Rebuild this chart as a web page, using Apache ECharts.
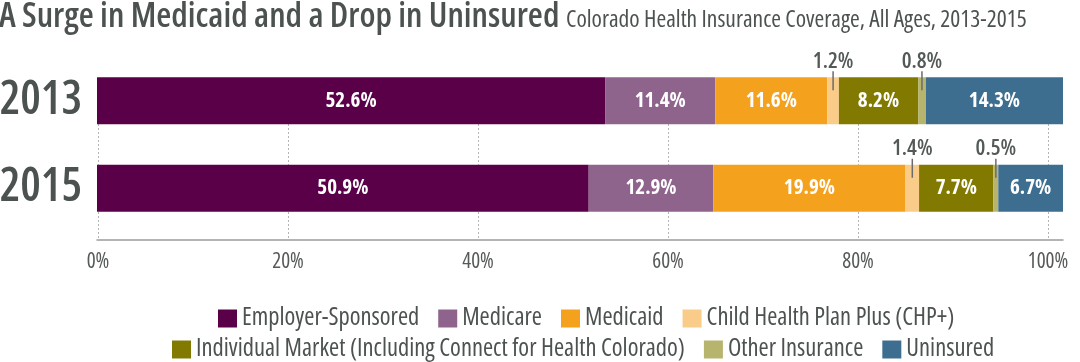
<!DOCTYPE html>
<html>
<head>
<meta charset="utf-8">
<script src="https://cdn.jsdelivr.net/npm/echarts@6/dist/echarts.min.js"></script>
<style>
html,body{margin:0;padding:0;background:#fff;}
#chart{width:1080px;height:362px;}
</style>
</head>
<body>
<div id="chart"></div>
<script>
// ---- data ----
const years = ['2013', '2015'];
const seriesNames = ['Employer-Sponsored', 'Medicare', 'Medicaid', 'Child Health Plan Plus (CHP+)',
  'Individual Market (Including Connect for Health Colorado)', 'Other Insurance', 'Uninsured'];
const employer   = [52.6, 50.9];
const medicare   = [11.4, 12.9];
const medicaid   = [11.6, 19.9];
const chp        = [1.2, 1.4];
const individual = [8.2, 7.7];
const other      = [0.8, 0.5];
const uninsured  = [14.3, 6.7];
const tickValues = [0, 20, 40, 60, 80, 100];
const titleText = 'A Surge in Medicaid and a Drop in Uninsured';
const subtitleText = 'Colorado Health Insurance Coverage, All Ages, 2013-2015';

const colors = ['#5a0049', '#8f648c', '#f4a11e', '#f9cc8a', '#827a00', '#b7b46e', '#3e6e8f'];
const values = [employer, medicare, medicaid, chp, individual, other, uninsured];
const FONT = '"Open Sans", "Roboto", sans-serif';
const ST = 'condensed';
const TXT = '#4b524f';

const insideLabel = {
  show: true, position: 'inside', color: '#fff', fontFamily: FONT, fontStyle: ST,
  fontSize: 21, fontWeight: 'bold', formatter: p => p.value.toFixed(1) + '%'
};
const outsideLabel = {
  show: true, position: 'top', distance: -13,
  formatter: p => '{v|' + p.value.toFixed(1) + '%}\n{l|}',
  rich: {
    v: { fontFamily: FONT, fontStyle: ST, fontSize: 22, fontWeight: 600, color: '#535957', lineHeight: 20, align: 'center' },
    l: { width: 1.5, height: 19, backgroundColor: '#6b6b6b', align: 'center' }
  }
};

const series = seriesNames.map((name, i) => ({
  name: name,
  type: 'bar',
  stack: 'total',
  xAxisIndex: 0, yAxisIndex: 0,
  barWidth: 47,
  itemStyle: { color: colors[i] },
  data: values[i].map(v => ({ value: v, label: v < 3 ? outsideLabel : insideLabel }))
}));

const legendText = { color: TXT, fontFamily: FONT, fontStyle: ST, fontSize: 24.5 };
const chart = echarts.init(document.getElementById('chart'), null, { renderer: 'canvas' });
chart.setOption({
  animation: false,
  color: colors,
  title: [
    { text: titleText, left: -1, top: -1, padding: 0,
      textStyle: { color: TXT, fontFamily: FONT, fontStyle: ST, fontSize: 34.5, fontWeight: 600, lineHeight: 36 } },
    { text: subtitleText, left: 566, top: 8, padding: 0,
      textStyle: { color: TXT, fontFamily: FONT, fontStyle: ST, fontSize: 23.5, fontWeight: 'normal', lineHeight: 24 } }
  ],
  legend: [
    { data: seriesNames.slice(0, 4), left: 218, top: 306, itemWidth: 19, itemHeight: 18, itemGap: 19,
      padding: 0, icon: 'rect', textStyle: legendText, selectedMode: false },
    { data: seriesNames.slice(4), left: 172, top: 337, itemWidth: 19, itemHeight: 18, itemGap: 19,
      padding: 0, icon: 'rect', textStyle: legendText, selectedMode: false }
  ],
  grid: [
    { left: 97, right: 17, top: 57, height: 175, containLabel: false, outerBoundsMode: 'none' },
    { left: 98, right: 32, top: 124, bottom: 122, containLabel: false, outerBoundsMode: 'none' }
  ],
  xAxis: [
    { type: 'value', gridIndex: 0, min: 0, max: 100, offset: 8,
      axisLine: { show: true, lineStyle: { color: '#9c9c9c', width: 1.5 } },
      axisTick: { show: false }, axisLabel: { show: false }, splitLine: { show: false } },
    { type: 'value', gridIndex: 1, min: tickValues[0], max: tickValues[tickValues.length - 1], interval: 20,
      axisLine: { show: false }, axisTick: { show: false },
      axisLabel: { show: true, margin: 12, color: '#555a58', fontFamily: FONT, fontStyle: ST, fontSize: 21,
        formatter: v => v + '%' },
      splitLine: { show: true, lineStyle: { color: '#b5b5b5', type: [2, 2], width: 1 } } }
  ],
  yAxis: [
    { type: 'category', gridIndex: 0, data: years, inverse: true,
      axisLine: { show: false }, axisTick: { show: false },
      axisLabel: { margin: 15, color: TXT, fontFamily: FONT, fontStyle: ST, fontSize: 46, fontWeight: 600 } },
    { type: 'value', gridIndex: 1, min: 0, max: 1, show: false }
  ],
  series: series
});
</script>
</body>
</html>
